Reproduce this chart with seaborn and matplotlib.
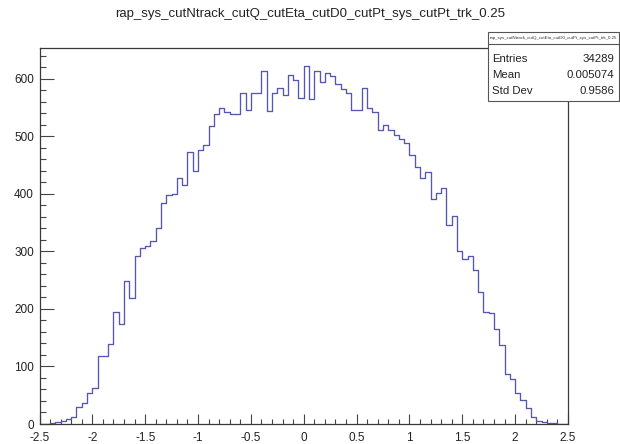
import numpy as np
import pandas as pd
import matplotlib
matplotlib.use("Agg")
import matplotlib.pyplot as plt
from matplotlib.ticker import MultipleLocator
from matplotlib.patches import Rectangle
import seaborn as sns

# Histogram definition
hist_name = "rap_sys_cutNtrack_cutQ_cutEta_cutD0_cutPt_sys_cutPt_trk_0.25"
x_low, x_high, n_bins = -2.5, 2.5, 100

# Bin contents, left to right
counts = [
    0, 0, 1, 3, 5, 8, 12, 30, 36, 54,
    62, 118, 118, 139, 194, 174, 249, 219, 292, 306,
    310, 318, 340, 384, 398, 400, 427, 415, 472, 439,
    476, 485, 518, 539, 549, 542, 539, 539, 575, 546,
    575, 575, 614, 543, 575, 584, 572, 607, 598, 566,
    622, 565, 613, 594, 609, 605, 591, 582, 575, 546,
    546, 584, 549, 542, 511, 519, 511, 502, 495, 488,
    468, 446, 427, 437, 390, 402, 410, 346, 361, 301,
    287, 291, 268, 230, 194, 192, 165, 137, 86, 78,
    54, 42, 27, 13, 6, 4, 2, 1, 0, 0,
]

x_tick_labels = ["-2.5", "-2", "-1.5", "-1", "-0.5", "0", "0.5", "1", "1.5", "2", "2.5"]
y_tick_values = [0, 100, 200, 300, 400, 500, 600]

stat_names = ["Entries", "Mean", "Std Dev"]
stat_values = ["34289", "0.005074", "0.9586"]

sns.set_style("white")
plt.rcParams["font.family"] = ["Liberation Sans", "DejaVu Sans"]

edges = [float(e) for e in np.linspace(x_low, x_high, n_bins + 1)]
centers = [0.5 * (a + b) for a, b in zip(edges[:-1], edges[1:])]
df = pd.DataFrame({"rap": centers, "count": counts})

W, H = 620, 444
fig = plt.figure(figsize=(W / 100, H / 100), dpi=100)
fig.patch.set_facecolor("white")

# frame in pixel units
fx0, fx1, fy0, fy1 = 39.5, 568, 48, 424
ax = fig.add_axes([fx0 / W, 1 - fy1 / H, (fx1 - fx0) / W, (fy1 - fy0) / H])

sns.histplot(data=df, x="rap", weights="count", bins=edges, element="step",
             fill=False, color="#5656b4", linewidth=0.95, ax=ax)

ax.set_xlim(x_low, x_high)
ax.set_ylim(0, 1.05 * max(counts))
ax.set_xlabel("")
ax.set_ylabel("")

ax.set_xticks([float(s) for s in x_tick_labels], labels=x_tick_labels)
ax.set_yticks(y_tick_values, labels=[str(v) for v in y_tick_values])
ax.xaxis.set_minor_locator(MultipleLocator(0.1))
ax.yaxis.set_minor_locator(MultipleLocator(20))

ax.tick_params(axis="both", which="both", direction="in", bottom=True, left=True,
               top=False, right=False, color="#444444", width=0.8,
               labelcolor="#222222")
ax.tick_params(axis="x", which="major", length=7.5, pad=6, labelsize=8.5)
ax.tick_params(axis="x", which="minor", length=3.5)
ax.tick_params(axis="y", which="major", length=10, pad=4, labelsize=8.5)
ax.tick_params(axis="y", which="minor", length=4.5)

for sp in ax.spines.values():
    sp.set_visible(True)
    sp.set_color("#3a3a3a")
    sp.set_linewidth(0.9)

# Title
fig.text(0.5, 1 - 14 / H, hist_name, ha="center", va="center", fontsize=9.5, color="#222222")

# Statistics box
bx0, bx1, by0, by1 = 488, 619, 32, 101
box = Rectangle((bx0 / W, 1 - by1 / H), (bx1 - bx0) / W, (by1 - by0) / H,
                transform=fig.transFigure, facecolor="white", edgecolor="#555555",
                linewidth=0.8, zorder=5)
fig.patches.append(box)
fig.add_artist(plt.Line2D([bx0 / W, bx1 / W], [1 - 44 / H, 1 - 44 / H],
                          transform=fig.transFigure, color="#555555", linewidth=0.8, zorder=6))
fig.text((bx0 + bx1) / 2 / W, 1 - 38 / H, hist_name, ha="center", va="center",
         fontsize=3.2, color="#333333", zorder=7)
for i, (name, val) in enumerate(zip(stat_names, stat_values)):
    yy = 1 - (59 + 16 * i) / H
    fig.text((bx0 + 4) / W, yy, name, ha="left", va="center", fontsize=8.2, color="#222222", zorder=7)
    fig.text((bx1 - 5) / W, yy, val, ha="right", va="center", fontsize=8.2, color="#222222", zorder=7)

fig.savefig("out.png", dpi=100, facecolor="white")
